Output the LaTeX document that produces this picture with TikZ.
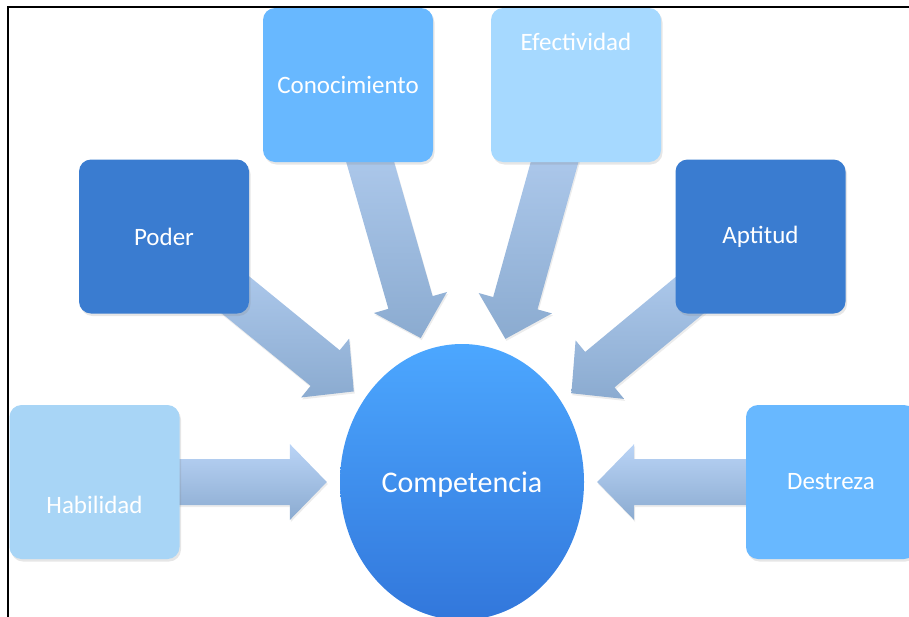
\documentclass[tikz,border=0pt]{standalone}
\usepackage{fontspec}
\setmainfont{Carlito}
\usetikzlibrary{positioning, calc, shapes.geometric, shadows, backgrounds}

\definecolor{darkbox}{HTML}{3A7CD0}
\definecolor{midbox}{HTML}{68B8FF}
\definecolor{palebox}{HTML}{A6D9FF}
\definecolor{skybox}{HTML}{A8D5F6}
\definecolor{arrowtop}{HTML}{BAD4F6}
\definecolor{arrowbot}{HTML}{8BABD0}
\definecolor{cirtop}{HTML}{4CA7FF}
\definecolor{cirbot}{HTML}{3277DB}

\tikzset{
  boxtext/.style={text=white, font=\fontsize{25}{30}\selectfont},
  box/.style={rectangle, rounded corners=12pt, minimum width=170pt,
    minimum height=154pt, inner sep=0pt, boxtext,
    drop shadow={opacity=0.2, shadow xshift=1.5pt, shadow yshift=-2.5pt}},
  arrowbody/.style={top color=arrowtop, bottom color=arrowbot,
    drop shadow={opacity=0.15, shadow xshift=1pt, shadow yshift=-2pt}}
}

% block arrow from a box towards the circle
\newcommand{\fatarrow}[2]{%
  \path let \p1=($(#1)-(#2)$), \n1={atan2(\y1,\x1)} in
    coordinate (tip) at ($(#2.\n1)!13pt!(#1)$)
    coordinate (neck) at ($(tip)!37pt!(#1)$);
  \path[arrowbody] ($(#1)!23pt!90:(tip)$) -- ($(neck)!23pt!90:(tip)$)
    -- ($(neck)!38pt!90:(tip)$) -- (tip) -- ($(neck)!38pt!-90:(tip)$)
    -- ($(neck)!23pt!-90:(tip)$) -- ($(#1)!23pt!-90:(tip)$) -- cycle;
}

\begin{document}
\begin{tikzpicture}[x=1pt, y=-1pt]
  \useasboundingbox (0,0) rectangle (909,616);
  \clip (0,0) rectangle (909,616);
  \draw[line width=2pt] (8.3,625) |- (920,7);

  \node[ellipse, minimum width=244pt, minimum height=276pt, inner sep=0pt,
    top color=cirtop, bottom color=cirbot,
    label={[text=white, font=\fontsize{30}{36}\selectfont, yshift=-3pt]center:Competencia}]
    (comp) at (462,482) {};

  \node[box, fill=midbox] (con) at (348,85) {Conocimiento};
  \node[box, fill=palebox, label={[boxtext, yshift=43pt]center:Efectividad}] (efe) at (576,85) {};
  \node[box, fill=darkbox] (pod) at (164,236.5) {Poder};
  \node[box, fill=darkbox] (apt) at (760.5,236.5) {Aptitud};
  \node[box, fill=skybox, label={[boxtext, yshift=-23pt]center:Habilidad}] (hab) at (94.5,482) {};
  \node[box, fill=midbox] (des) at (831,482) {Destreza};

  \begin{scope}[on background layer]
    \foreach \from in {con, efe, pod, apt, hab, des}
      \fatarrow{\from}{comp};
  \end{scope}
\end{tikzpicture}
\end{document}
